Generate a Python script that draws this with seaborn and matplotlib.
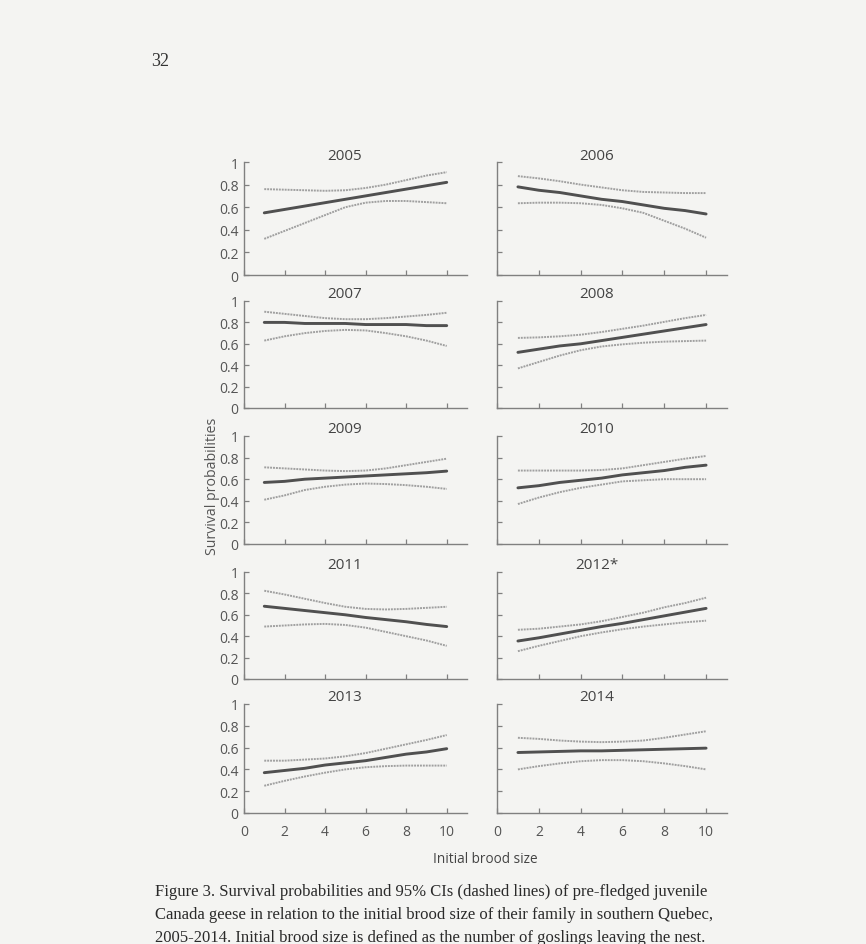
import matplotlib
matplotlib.use("Agg")
import matplotlib.pyplot as plt
import pandas as pd
import seaborn as sns

# values (brood size 1..10)
BROOD_SIZE = [1, 2, 3, 4, 5, 6, 7, 8, 9, 10]
YEARS = ["2005", "2006", "2007", "2008", "2009", "2010", "2011", "2012*", "2013", "2014"]

MEAN_FIT = [
    [0.55, 0.58, 0.61, 0.64, 0.67, 0.70, 0.73, 0.76, 0.79, 0.82],
    [0.78, 0.75, 0.73, 0.70, 0.67, 0.65, 0.62, 0.59, 0.57, 0.54],
    [0.80, 0.80, 0.79, 0.79, 0.79, 0.78, 0.78, 0.78, 0.77, 0.77],
    [0.52, 0.55, 0.58, 0.60, 0.63, 0.66, 0.69, 0.72, 0.75, 0.78],
    [0.57, 0.58, 0.60, 0.61, 0.62, 0.63, 0.64, 0.65, 0.66, 0.675],
    [0.52, 0.54, 0.57, 0.59, 0.61, 0.64, 0.66, 0.68, 0.71, 0.73],
    [0.68, 0.66, 0.64, 0.62, 0.60, 0.575, 0.555, 0.535, 0.51, 0.49],
    [0.355, 0.385, 0.42, 0.455, 0.49, 0.52, 0.555, 0.59, 0.625, 0.66],
    [0.37, 0.39, 0.41, 0.44, 0.46, 0.48, 0.51, 0.54, 0.56, 0.59],
    [0.555, 0.56, 0.565, 0.57, 0.57, 0.575, 0.58, 0.585, 0.59, 0.595],
]
UPPER_CI = [
    [0.76, 0.755, 0.75, 0.745, 0.75, 0.77, 0.80, 0.84, 0.88, 0.91],
    [0.875, 0.855, 0.83, 0.80, 0.775, 0.75, 0.735, 0.73, 0.725, 0.725],
    [0.90, 0.88, 0.86, 0.84, 0.83, 0.83, 0.84, 0.855, 0.87, 0.89],
    [0.655, 0.66, 0.67, 0.685, 0.71, 0.74, 0.77, 0.805, 0.84, 0.87],
    [0.71, 0.70, 0.69, 0.68, 0.675, 0.68, 0.70, 0.73, 0.76, 0.79],
    [0.68, 0.68, 0.68, 0.68, 0.685, 0.70, 0.73, 0.76, 0.79, 0.815],
    [0.825, 0.79, 0.75, 0.71, 0.675, 0.655, 0.65, 0.655, 0.665, 0.675],
    [0.46, 0.47, 0.49, 0.51, 0.54, 0.58, 0.62, 0.67, 0.71, 0.76],
    [0.48, 0.48, 0.49, 0.50, 0.52, 0.55, 0.59, 0.63, 0.67, 0.715],
    [0.69, 0.68, 0.665, 0.655, 0.65, 0.655, 0.665, 0.69, 0.72, 0.75],
]
LOWER_CI = [
    [0.32, 0.39, 0.46, 0.53, 0.60, 0.64, 0.655, 0.655, 0.645, 0.635],
    [0.635, 0.64, 0.64, 0.635, 0.62, 0.59, 0.55, 0.48, 0.41, 0.33],
    [0.63, 0.67, 0.70, 0.72, 0.73, 0.725, 0.70, 0.67, 0.63, 0.58],
    [0.37, 0.43, 0.49, 0.54, 0.575, 0.595, 0.61, 0.62, 0.625, 0.63],
    [0.41, 0.45, 0.50, 0.53, 0.55, 0.56, 0.555, 0.545, 0.53, 0.51],
    [0.37, 0.43, 0.48, 0.52, 0.55, 0.58, 0.59, 0.60, 0.60, 0.60],
    [0.49, 0.50, 0.51, 0.515, 0.505, 0.48, 0.44, 0.40, 0.36, 0.31],
    [0.26, 0.31, 0.355, 0.40, 0.435, 0.465, 0.49, 0.51, 0.53, 0.545],
    [0.25, 0.295, 0.335, 0.37, 0.40, 0.42, 0.43, 0.435, 0.435, 0.435],
    [0.40, 0.43, 0.455, 0.475, 0.485, 0.485, 0.475, 0.455, 0.43, 0.40],
]

Y_TICKS = [0, 0.2, 0.4, 0.6, 0.8, 1]
Y_TICK_LABELS = ["0", "0.2", "0.4", "0.6", "0.8", "1"]
X_TICKS = [0, 2, 4, 6, 8, 10]

CAPTION = [
    "Figure 3. Survival probabilities and 95% CIs (dashed lines) of pre-fledged juvenile",
    "Canada geese in relation to the initial brood size of their family in southern Quebec,",
    "2005-2014. Initial brood size is defined as the number of goslings leaving the nest.",
]

sns.set_style("ticks")
plt.rcParams["font.family"] = ["Open Sans", "DejaVu Sans"]

PAPER = "#f4f4f2"
AXIS_GREY = "#808080"
TEXT_GREY = "#555555"

W, H = 866, 945
fig = plt.figure(figsize=(W / 100, H / 100), dpi=100, facecolor=PAPER)

# pixel spans of the plot areas in the scan
row_spans = [(163, 276), (302, 409), (437, 545), (573, 680), (705, 814)]
col_spans = [(244, 467), (497, 727)]
title_x = [0.45, 0.435]

for i, year in enumerate(YEARS):
    r, c = divmod(i, 2)
    top, bot = row_spans[r]
    left, right = col_spans[c]
    ax = fig.add_axes([left / W, 1 - bot / H, (right - left) / W, (bot - top) / H])
    ax.set_facecolor("none")

    df = pd.DataFrame({
        "brood": BROOD_SIZE * 3,
        "prob": MEAN_FIT[i] + UPPER_CI[i] + LOWER_CI[i],
        "curve": ["fit"] * 10 + ["upper"] * 10 + ["lower"] * 10,
    })
    for name in ["upper", "lower"]:
        sns.lineplot(data=df[df["curve"] == name], x="brood", y="prob", ax=ax,
                     color="#a0a0a0", linewidth=1.4, linestyle=(0, (1, 0.5)),
                     estimator=None, sort=False)
    sns.lineplot(data=df[df["curve"] == "fit"], x="brood", y="prob", ax=ax,
                 color="#505050", linewidth=2.1, estimator=None, sort=False)

    ax.set_xlim(0, 11)
    ax.set_ylim(0, 1)
    ax.set_xlabel("")
    ax.set_ylabel("")
    ax.set_yticks(Y_TICKS)
    ax.set_xticks(X_TICKS)
    ax.xaxis.set_minor_locator(plt.NullLocator())
    sns.despine(ax=ax)
    for side in ["left", "bottom"]:
        ax.spines[side].set_color(AXIS_GREY)
        ax.spines[side].set_linewidth(1.0)
    ax.tick_params(axis="both", direction="in", length=3.5, width=0.9,
                   color=AXIS_GREY, labelcolor=TEXT_GREY, labelsize=10)
    ax.tick_params(axis="y", pad=4)
    if c == 0:
        ax.set_yticklabels(Y_TICK_LABELS)
    else:
        ax.set_yticklabels([])
    if r == 4:
        ax.set_xticklabels([str(t) for t in X_TICKS])
        ax.tick_params(axis="x", pad=8)
    else:
        ax.set_xticklabels([])

    ax.text(title_x[c], 1 + 7 / (bot - top), year, transform=ax.transAxes,
            ha="center", va="center", fontsize=11, color="#444444")

fig.text(213 / W, 1 - 486 / H, "Survival probabilities", rotation=90,
         ha="center", va="center", fontsize=10.2, color=TEXT_GREY)
fig.text(485 / W, 1 - 860 / H, "Initial brood size", ha="center", va="center",
         fontsize=9.8, color="#444444")

fig.text(160 / W, 1 - 62 / H, "32", ha="center", va="center", fontsize=13,
         color="#333333", family="Liberation Serif")

for k, line in enumerate(CAPTION):
    fig.text(155 / W, 1 - (892 + 23 * k) / H, line, ha="left", va="center",
             fontsize=12, color="#2a2a2a", family="Liberation Serif")

fig.savefig("out.png", dpi=100, facecolor=PAPER)
